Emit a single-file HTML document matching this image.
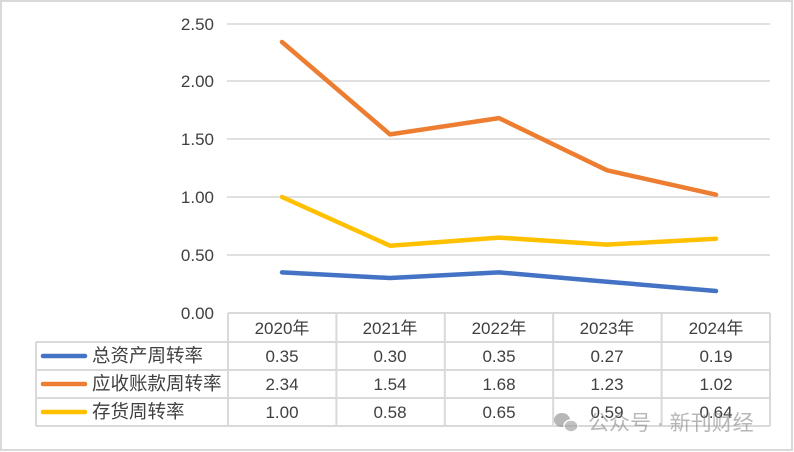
<!DOCTYPE html>
<html><head><meta charset="utf-8"><style>
html,body{margin:0;padding:0;background:#fff}
svg{display:block}
text{font-family:"Liberation Sans","Noto Sans CJK SC",sans-serif;fill:#404040}
</style></head><body>
<svg width="794" height="452" viewBox="0 0 794 452" xmlns="http://www.w3.org/2000/svg">
<rect x="1" y="1" width="791" height="449" fill="#fff" stroke="#d9d9d9" stroke-width="2"/>
<g stroke="#e0e0e0" stroke-width="2">
<line x1="227" y1="24" x2="770" y2="24"/>
<line x1="227" y1="81" x2="770" y2="81"/>
<line x1="227" y1="139" x2="770" y2="139"/>
<line x1="227" y1="197" x2="770" y2="197"/>
<line x1="227" y1="255" x2="770" y2="255"/>
</g>
<g font-size="17" text-anchor="end">
<text x="214" y="30">2.50</text>
<text x="214" y="87">2.00</text>
<text x="214" y="145">1.50</text>
<text x="214" y="203">1.00</text>
<text x="214" y="261">0.50</text>
<text x="214" y="319">0.00</text>
</g>
<g fill="none" stroke-width="4.5" stroke-linejoin="round" stroke-linecap="round">
<polyline stroke="#ed7d31" points="282,42 390,134.4 499,118.1 607,170.3 716,194.7"/>
<polyline stroke="#ffc000" points="282,197 390,245.7 499,237.6 607,244.6 716,238.8"/>
<polyline stroke="#4472c4" points="282,272.4 390,278 499,272.4 607,281.7 716,291"/>
</g>
<g stroke="#d9d9d9" stroke-width="2" fill="none">
<line x1="228" y1="313" x2="770" y2="313"/>
<line x1="36" y1="342" x2="770" y2="342"/>
<line x1="36" y1="370" x2="770" y2="370"/>
<line x1="36" y1="398" x2="770" y2="398"/>
<line x1="36" y1="426" x2="770" y2="426"/>
<line x1="36" y1="342" x2="36" y2="426"/>
<line x1="228" y1="313" x2="228" y2="426"/>
<line x1="336.4" y1="313" x2="336.4" y2="426"/>
<line x1="444.8" y1="313" x2="444.8" y2="426"/>
<line x1="553.2" y1="313" x2="553.2" y2="426"/>
<line x1="661.6" y1="313" x2="661.6" y2="426"/>
<line x1="770" y1="313" x2="770" y2="426"/>
</g>
<g stroke-width="4.5" stroke-linecap="round">
<line x1="43" y1="356" x2="85" y2="356" stroke="#4472c4"/>
<line x1="43" y1="384" x2="85" y2="384" stroke="#ed7d31"/>
<line x1="43" y1="412" x2="85" y2="412" stroke="#ffc000"/>
</g>
<g font-size="18.5">
<text x="92" y="362">总资产周转率</text>
<text x="92" y="390">应收账款周转率</text>
<text x="92" y="418">存货周转率</text>
</g>
<g font-size="17" text-anchor="middle">
<text x="282" y="334">2020年</text><text x="390" y="334">2021年</text><text x="499" y="334">2022年</text><text x="607" y="334">2023年</text><text x="716" y="334">2024年</text>
<text x="282" y="362">0.35</text><text x="390" y="362">0.30</text><text x="499" y="362">0.35</text><text x="607" y="362">0.27</text><text x="716" y="362">0.19</text>
<text x="282" y="390">2.34</text><text x="390" y="390">1.54</text><text x="499" y="390">1.68</text><text x="607" y="390">1.23</text><text x="716" y="390">1.02</text>
<text x="282" y="418">1.00</text><text x="390" y="418">0.58</text><text x="499" y="418">0.65</text><text x="607" y="418">0.59</text><text x="716" y="418">0.64</text>
</g>
<g opacity="0.6">
<ellipse cx="562" cy="420" rx="8" ry="7" fill="#888"/>
<ellipse cx="571" cy="426" rx="7" ry="6" fill="#999" stroke="#fff" stroke-width="1.5"/>
<text x="588" y="430" font-size="21" style="fill:#888">公众号 · 新刊财经</text>
</g>
</svg>
</body></html>
